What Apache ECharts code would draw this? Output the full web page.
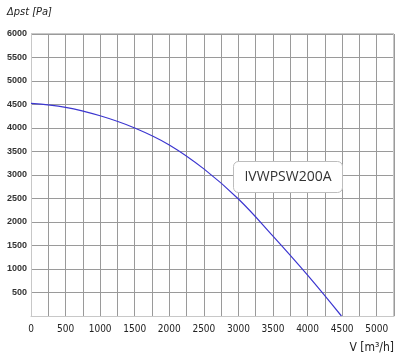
<!DOCTYPE html>
<html><head><meta charset="utf-8">
<script src="https://cdn.jsdelivr.net/npm/echarts@6/dist/echarts.min.js"></script>
<style>html,body{margin:0;padding:0;background:#fff}#c{width:400px;height:363px}</style>
</head><body><div id="c"></div>
<script>
const flow = [0, 500, 1000, 1500, 2000, 2500, 3000, 3500, 4000, 4490];
const pressure = [4525, 4440, 4260, 4000, 3640, 3130, 2490, 1700, 870, 0];
const seriesName = 'IVWPSW200A';
const yAxisTitle = 'Δpst [Pa]';
const xAxisTitle = 'V [m³/h]';
const narrow = '"DejaVu Sans Condensed", "Liberation Sans Narrow", sans-serif';

const chart = echarts.init(document.getElementById('c'), null, {renderer: 'canvas'});
chart.setOption({
  animation: false,
  backgroundColor: '#fff',
  grid: {left: 31, right: 6, top: 34, bottom: 47, containLabel: false},
  xAxis: {
    type: 'value', min: 0, max: 5250, interval: 250,
    axisLine: {show: true, lineStyle: {color: '#c8c8c8'}},
    axisTick: {show: false},
    splitLine: {show: true, lineStyle: {color: '#9a9a9a', width: 1}},
    axisLabel: {
      margin: 8, color: '#222', fontSize: 10, fontFamily: narrow,
      formatter: v => (v % 500 === 0 && v <= 5000) ? String(v) : ''
    }
  },
  yAxis: {
    type: 'value', min: 0, max: 6000, interval: 500,
    axisLine: {show: true, lineStyle: {color: '#c8c8c8'}},
    axisTick: {show: false},
    splitLine: {show: true, lineStyle: {color: '#9a9a9a', width: 1}},
    axisLabel: {
      showMinLabel: false, margin: 4, color: '#333', fontSize: 9, fontWeight: 'bold',
      fontFamily: '"Liberation Sans", Arial, sans-serif',
      formatter: v => String(v)
    }
  },
  graphic: [
    {type: 'rect', z: 100, left: 393, top: 34, shape: {width: 1, height: 282}, style: {fill: '#c8c8c8'}},
    {type: 'rect', z: 100, left: 31, top: 33, shape: {width: 363, height: 1}, style: {fill: '#c8c8c8'}},
    {type: 'text', z: 100, left: 7, top: 7, style: {text: yAxisTitle, fontSize: 11, fontStyle: 'italic',
      fontFamily: narrow, fill: '#222'}},
    {type: 'text', z: 100, right: 6, top: 342, style: {text: xAxisTitle, fontSize: 12,
      fontFamily: narrow, fill: '#222'}},
    {type: 'group', z: 100, left: 233, top: 161, children: [
      {type: 'rect', z: 100, shape: {x: 0, y: 0, width: 109, height: 31, r: 5},
        style: {fill: '#fff', stroke: '#bdbdbd', lineWidth: 1}},
      {type: 'text', z: 101, style: {text: seriesName, x: 54.5, y: 16, align: 'center', verticalAlign: 'middle',
        fontSize: 14, fontFamily: '"Open Sans", "Noto Sans", sans-serif', fill: '#333'}}
    ]}
  ],
  series: [{
    name: seriesName, type: 'line', smooth: 0.4, showSymbol: false,
    lineStyle: {color: '#3c36d0', width: 1.2},
    data: flow.map((f, i) => [f, pressure[i]])
  }]
});
</script></body></html>
